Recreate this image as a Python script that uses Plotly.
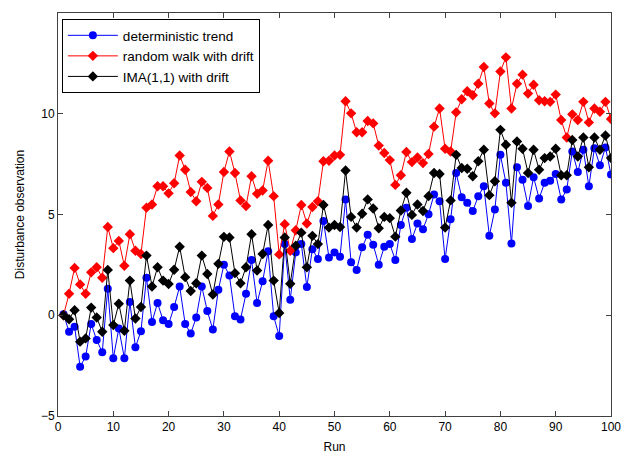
import plotly.graph_objects as go

runs = list(range(1, 101))

deterministic_trend = [
    0.05, -0.82, -0.57, -2.55, -2.05, -0.44, -1.23, -1.84, 1.31, -2.13,
    -0.66, -2.13, 0.66, -1.59, -0.79, 1.86, -0.33, 0.61, -0.25, -0.44,
    0.41, 1.43, -0.44, -0.90, -0.11, 1.43, 0.21, -0.71, 1.26, 2.51,
    1.97, -0.05, -0.21, 1.07, 2.74, 0.61, 1.69, 3.17, -0.05, -1.03,
    3.53, 0.77, 3.12, 3.53, 1.40, 3.28, 2.79, 4.68, 2.87, 3.12,
    2.90, 5.75, 2.63, 2.25, 3.37, 3.99, 3.50, 2.51, 3.40, 3.53,
    2.74, 4.48, 5.34, 3.78, 4.55, 4.27, 5.01, 5.99, 5.66, 2.79,
    4.76, 7.06, 5.86, 5.58, 5.17, 5.91, 6.40, 3.94, 5.25, 7.96,
    6.57, 3.56, 7.34, 6.73, 5.42, 6.85, 5.80, 6.57, 6.68, 7.01,
    5.75, 6.24, 8.13, 7.11, 8.21, 6.40, 8.29, 7.44, 8.33, 6.98,
]

random_walk_drift = [
    0.00, 1.07, 2.35, 1.53, 1.07, 2.13, 2.38, 1.86, 4.38, 3.33,
    3.69, 2.46, 4.02, 3.20, 3.04, 5.34, 5.50, 6.40, 6.40, 6.05,
    6.55, 7.93, 7.22, 6.12, 5.66, 6.62, 6.32, 4.93, 5.50, 7.11,
    8.13, 7.06, 5.70, 5.42, 6.90, 6.03, 6.19, 7.67, 5.91, 3.02,
    4.52, 3.20, 4.22, 5.47, 4.55, 5.37, 5.66, 7.64, 7.67, 7.93,
    7.96, 10.62, 10.02, 9.08, 9.08, 9.64, 9.52, 8.42, 8.05, 7.70,
    6.47, 6.95, 8.10, 7.60, 7.83, 7.55, 8.00, 9.36, 10.26, 8.26,
    8.13, 10.07, 10.72, 11.12, 10.92, 11.49, 12.32, 10.51, 10.02, 12.10,
    12.80, 10.26, 11.49, 11.94, 11.00, 11.44, 10.67, 10.62, 10.59, 10.95,
    9.69, 8.82, 9.97, 9.69, 10.59, 9.57, 10.26, 10.10, 10.59, 9.74,
]

ima_drift = [
    0.00, -0.20, 0.25, -1.31, -1.15, 0.38, -0.11, -0.82, 2.25, -0.49,
    0.57, -0.77, 1.72, -0.16, 0.41, 2.96, 1.43, 2.38, 1.72, 1.55,
    2.26, 3.40, 1.89, 1.20, 1.59, 2.96, 2.05, 1.03, 2.55, 3.89,
    3.86, 2.09, 1.59, 2.38, 4.02, 2.22, 3.04, 4.48, 1.72, 0.11,
    3.86, 1.56, 3.45, 4.10, 2.38, 3.94, 3.53, 5.47, 4.35, 4.48,
    4.38, 7.18, 4.88, 4.35, 5.04, 5.75, 5.30, 4.32, 4.88, 4.82,
    3.90, 5.20, 6.08, 4.98, 5.50, 5.17, 5.91, 7.06, 7.01, 4.35,
    5.70, 7.96, 7.31, 7.27, 6.90, 7.64, 8.21, 5.96, 6.65, 9.20,
    8.46, 5.58, 8.62, 8.26, 7.06, 8.21, 7.22, 7.80, 7.88, 8.26,
    6.95, 6.95, 8.70, 7.88, 8.82, 7.34, 8.82, 8.21, 8.92, 7.80,
]

x_ticks = [0, 10, 20, 30, 40, 50, 60, 70, 80, 90, 100]
y_ticks = [-5, 0, 5, 10, 15]

font = "Liberation Sans, Arial, sans-serif"

fig = go.Figure()
fig.add_trace(go.Scatter(
    x=runs, y=deterministic_trend, mode="lines+markers", name="deterministic trend",
    line=dict(color="#0000ff", width=1),
    marker=dict(symbol="circle", size=8, color="#0000ff"),
))
fig.add_trace(go.Scatter(
    x=runs, y=random_walk_drift, mode="lines+markers", name="random walk with drift",
    line=dict(color="#ff0000", width=1),
    marker=dict(symbol="diamond", size=8, color="#ff0000"),
))
fig.add_trace(go.Scatter(
    x=runs, y=ima_drift, mode="lines+markers", name="IMA(1,1) with drift",
    line=dict(color="#000000", width=1),
    marker=dict(symbol="diamond", size=8, color="#000000"),
))

axis_common = dict(
    showline=True, linecolor="#404040", linewidth=1, mirror="allticks",
    ticks="inside", ticklen=5, tickcolor="#404040", showgrid=False, zeroline=False,
    tickfont=dict(family=font, size=12, color="black"),
)

fig.update_layout(
    width=626, height=447,
    paper_bgcolor="white", plot_bgcolor="white",
    margin=dict(l=50, r=23, t=5, b=39, autoexpand=False),
    font=dict(family=font, size=12, color="black"),
    showlegend=True,
    legend=dict(
        x=0.007, y=0.985, xanchor="left", yanchor="top",
        bordercolor="black", borderwidth=1, bgcolor="white",
        font=dict(family=font, size=13.5, color="black"),
        tracegroupgap=0, itemwidth=50,
    ),
    xaxis=dict(range=[0, 100], tickvals=x_ticks,
               title=dict(text="Run", standoff=9, font=dict(size=12)), **axis_common),
    yaxis=dict(range=[-5, 15], tickvals=y_ticks,
               title=dict(text="Disturbance observation", standoff=13, font=dict(size=12)), **axis_common),
)

fig.write_html("out.html")
